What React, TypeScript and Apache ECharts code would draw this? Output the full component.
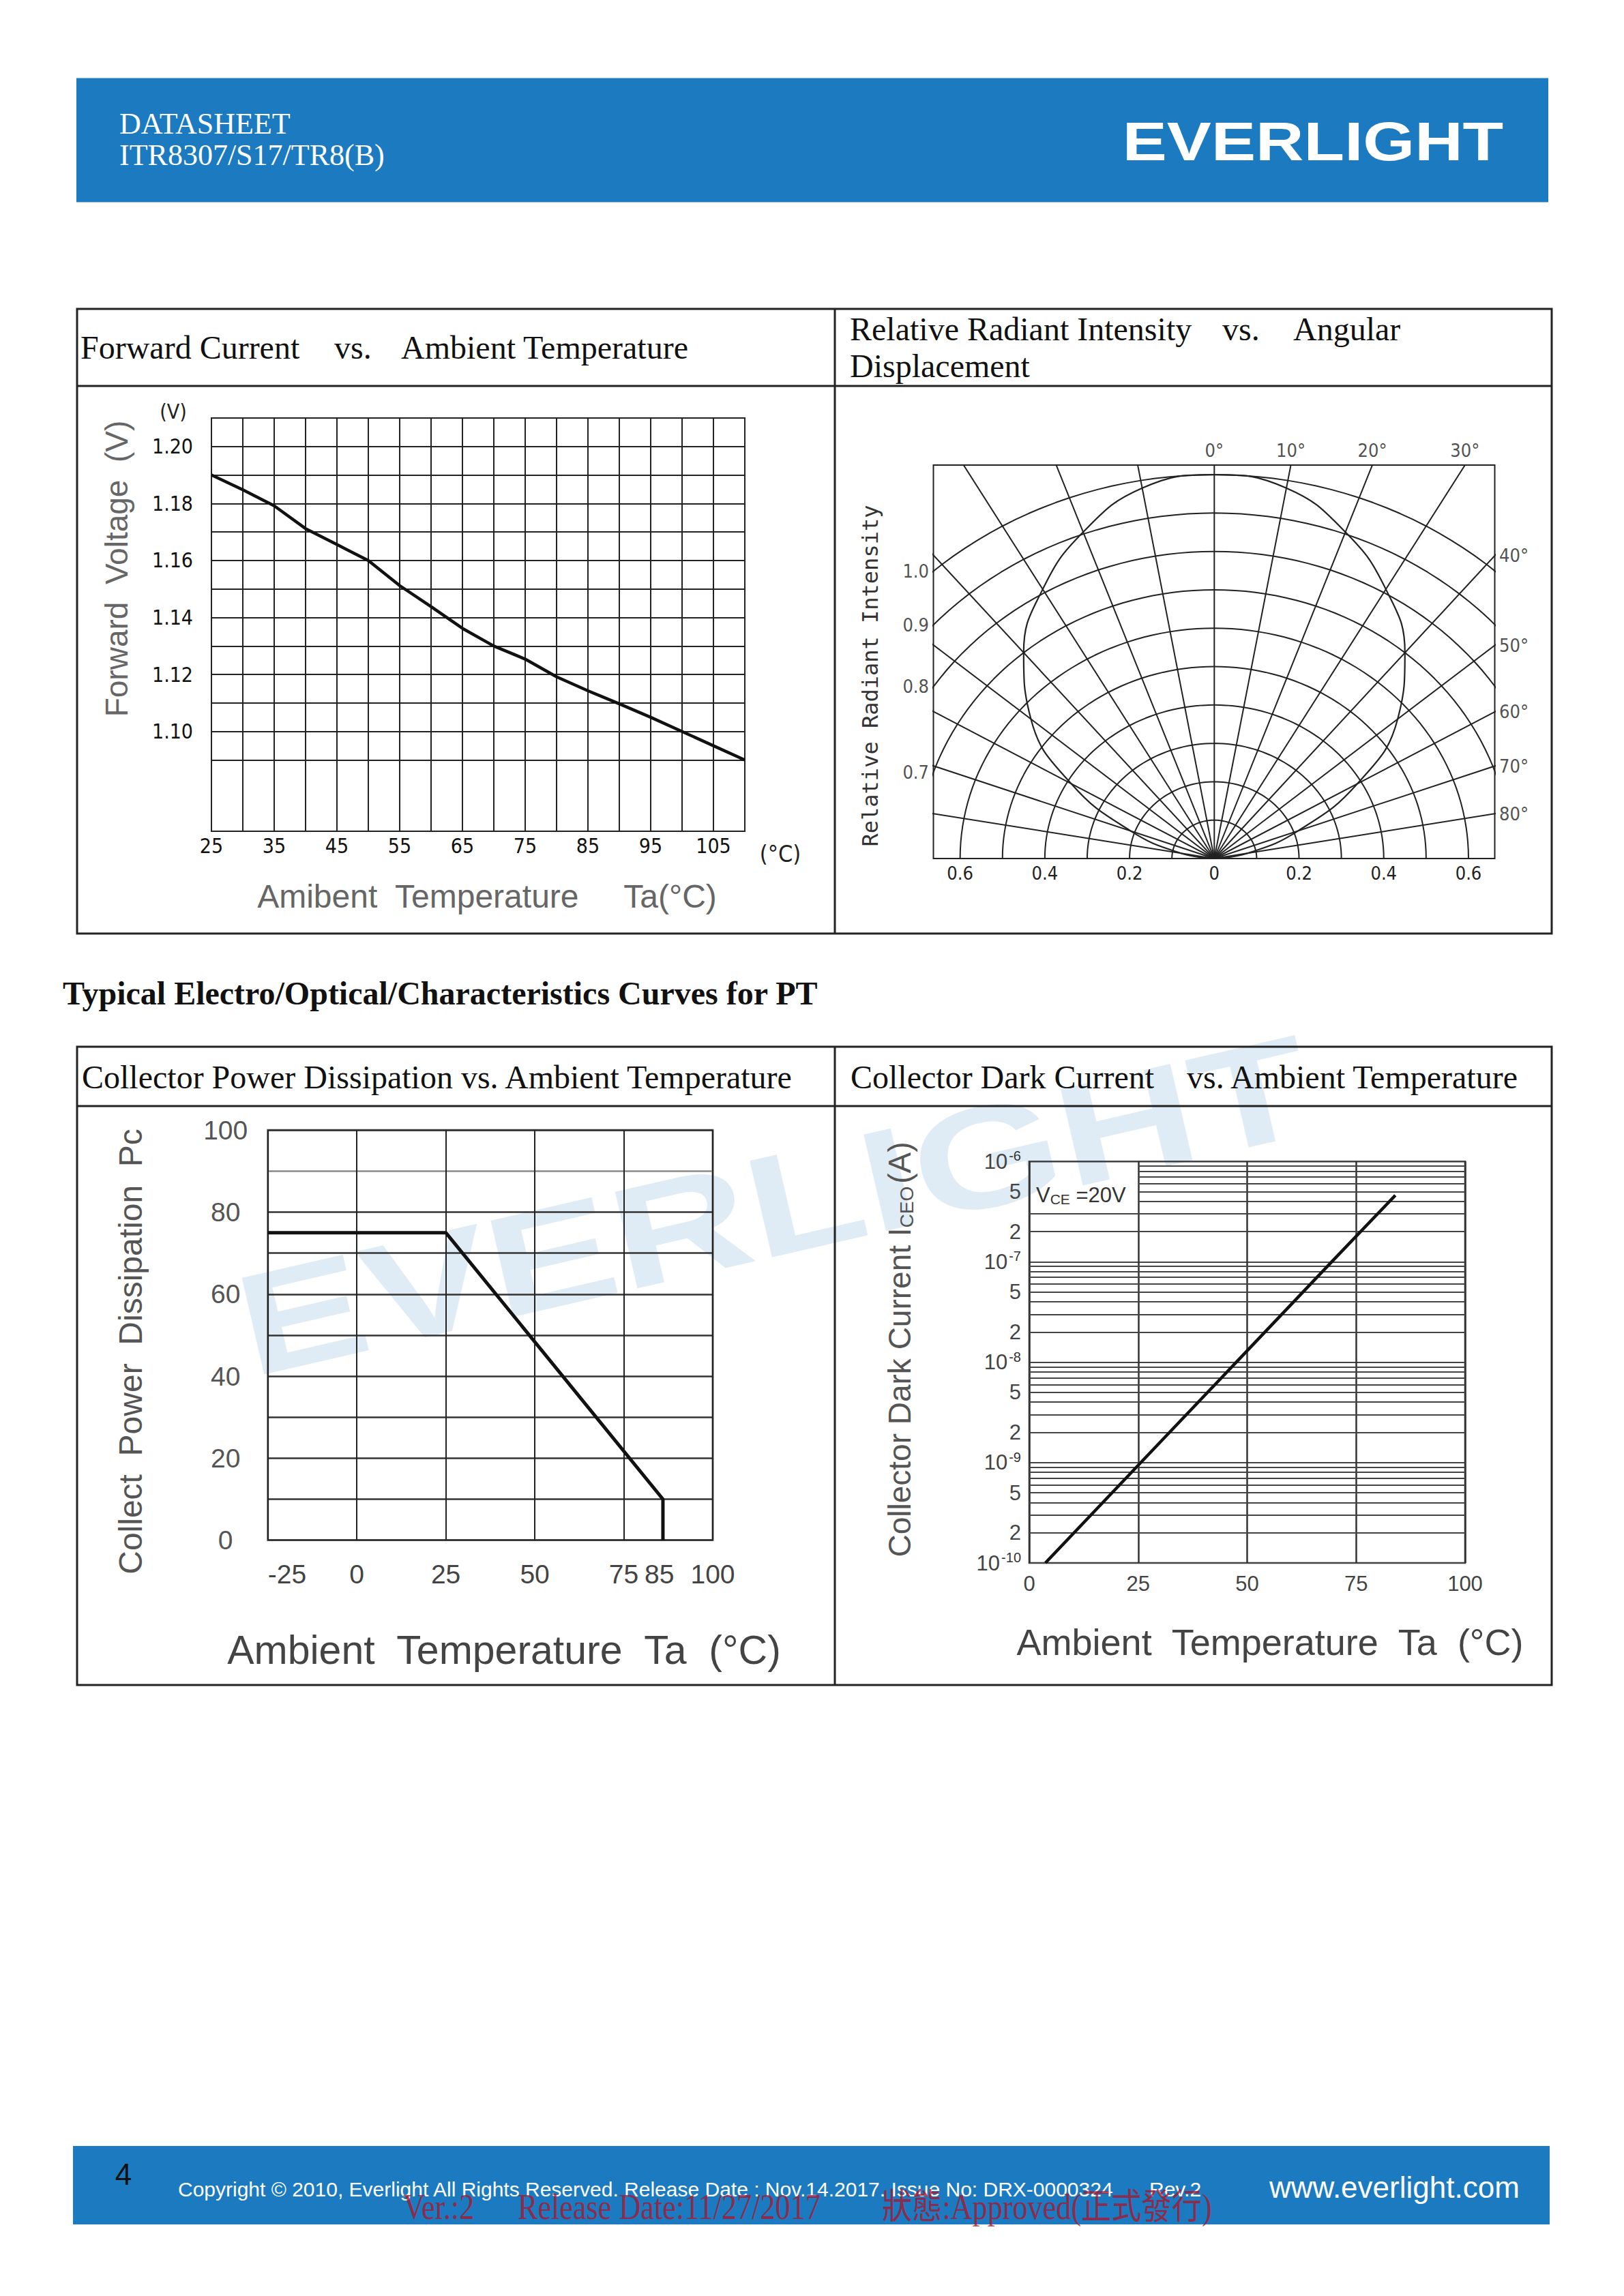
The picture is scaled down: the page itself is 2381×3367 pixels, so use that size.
import React, { useEffect, useRef } from "react";
import * as echarts from "echarts";

const PAGE_W = 2381;
const PAGE_H = 3367;

// ---------- Forward voltage vs ambient temperature ----------
const fvTemp = [25, 30, 35, 40, 45, 50, 55, 60, 65, 70, 75, 80, 85, 90, 95, 100, 105, 110];
const fvVolt = [1.19, 1.1848, 1.1792, 1.1712, 1.1656, 1.16, 1.1512, 1.1438, 1.1362, 1.13, 1.1254, 1.1192, 1.1143, 1.1097, 1.105, 1.1, 1.095, 1.09];
const fvXLabels = [25, 35, 45, 55, 65, 75, 85, 95, 105];
const fvYLabels = [1.1, 1.12, 1.14, 1.16, 1.18, 1.2];
const fvYGrid = [1.09, 1.1, 1.11, 1.12, 1.13, 1.14, 1.15, 1.16, 1.17, 1.18, 1.19, 1.2, 1.21];

// ---------- Relative radiant intensity vs angular displacement ----------
const riAngle = [-90, -80, -70, -60, -50, -40, -30, -20, -10, 0, 10, 20, 30, 40, 50, 60, 70, 80, 90];
const riValue = [0, 0.08, 0.21, 0.39, 0.565, 0.7, 0.81, 0.905, 0.98, 1.0, 0.98, 0.905, 0.81, 0.7, 0.565, 0.39, 0.21, 0.08, 0];
const riRadialGrid = [-80, -70, -60, -50, -40, -30, -20, -10, 0, 10, 20, 30, 40, 50, 60, 70, 80];
const riArcGrid = [0.1, 0.2, 0.3, 0.4, 0.5, 0.6, 0.7, 0.8, 0.9, 1.0];
const riXLabels = [-0.6, -0.4, -0.2, 0, 0.2, 0.4, 0.6];
const riLeftLabels = [1.0, 0.9, 0.8, 0.7];
const riTopLabels = [0, 10, 20, 30];
const riRightLabels = [40, 50, 60, 70, 80];

// ---------- Collector power dissipation vs ambient temperature ----------
const pdTemp = [-25, 25, 86, 86];
const pdPower = [75, 75, 10, 0];
const pdXLabels = [-25, 0, 25, 50, 75, 85, 100];

// ---------- Collector dark current vs ambient temperature ----------
const dcTemp = [3.7, 25.6, 47.5, 69.4, 84];
const dcCurrent = [1e-10, 1e-9, 1e-8, 1e-7, 4.6e-7];
const dcDecades = [1e-10, 1e-9, 1e-8, 1e-7, 1e-6];
const dcMinorMult = [2, 3, 4, 5, 6, 7, 8, 9];
const dcYLabels = [1e-10, 2e-10, 5e-10, 1e-9, 2e-9, 5e-9, 1e-8, 2e-8, 5e-8, 1e-7, 2e-7, 5e-7, 1e-6];

// ---------- fonts / colours ----------
const SERIF = "Liberation Serif, DejaVu Serif, serif";
const SANS = "Liberation Sans, Arial, sans-serif";
const NARROW = "Liberation Sans Narrow, DejaVu Sans Condensed, Liberation Sans, sans-serif";
const MONO = "DejaVu Sans Mono, monospace";
const BLUE = "#1c7bc0";
const RED = "rgba(170,22,45,0.8)";

const rad = (d: number) => (d * Math.PI) / 180;

function txt(text: string, x: number, y: number, o: any = {}) {
  return {
    type: "text",
    x,
    y,
    rotation: o.rot || 0,
    scaleX: o.sx || 1,
    z: o.z ?? 10,
    silent: true,
    style: {
      text,
      x: 0,
      y: 0,
      fill: o.color || "#111",
      fontSize: o.size || 48,
      fontFamily: o.family || SERIF,
      fontWeight: o.weight || "normal",
      align: o.align || "left",
      verticalAlign: "middle",
      rich: o.rich,
    },
  };
}

function ln(x1: number, y1: number, x2: number, y2: number, w = 3, c = "#222") {
  return { type: "line", z: 10, silent: true, shape: { x1, y1, x2, y2 }, style: { stroke: c, lineWidth: w } };
}

function buildOption() {
  // polar-chart box extents in data units (layout)
  const RX0 = -0.663, RX1 = 0.662, RY1 = 1.025;

  const series: any[] = [];

  // forward voltage
  series.push({
    type: "line",
    xAxisIndex: 0,
    yAxisIndex: 0,
    data: fvTemp.map((t, i) => [t, fvVolt[i]]),
    symbol: "none",
    lineStyle: { color: "#111", width: 4.5 },
    z: 5,
    markLine: {
      silent: true,
      symbol: "none",
      animation: false,
      label: { show: false },
      lineStyle: { color: "#222", width: 2, type: "solid" },
      data: fvYGrid.map((v) => [{ coord: [25, v] }, { coord: [110, v] }]),
    },
  });

  // polar grid: radial lines
  riRadialGrid.forEach((a) => {
    series.push({
      type: "line",
      xAxisIndex: 1,
      yAxisIndex: 1,
      data: [
        [0, 0],
        [2 * Math.sin(rad(a)), 2 * Math.cos(rad(a))],
      ],
      symbol: "none",
      silent: true,
      lineStyle: { color: "#222", width: 2 },
    });
  });
  // polar grid: arcs
  riArcGrid.forEach((r) => {
    const pts: number[][] = [];
    for (let d = -90; d <= 90; d += 2) pts.push([r * Math.sin(rad(d)), r * Math.cos(rad(d))]);
    series.push({
      type: "line",
      xAxisIndex: 1,
      yAxisIndex: 1,
      data: pts,
      symbol: "none",
      silent: true,
      lineStyle: { color: "#222", width: 2 },
    });
  });
  // radiation pattern
  series.push({
    type: "line",
    xAxisIndex: 1,
    yAxisIndex: 1,
    data: riAngle.map((a, i) => [riValue[i] * Math.sin(rad(a)), riValue[i] * Math.cos(rad(a))]),
    symbol: "none",
    smooth: 0.45,
    lineStyle: { color: "#222", width: 2.2 },
    z: 5,
  });
  const lblStyle = { fontSize: 27, fontFamily: NARROW, color: "#222" };
  series.push({
    type: "scatter",
    xAxisIndex: 1,
    yAxisIndex: 1,
    symbolSize: 1,
    clip: false,
    silent: true,
    itemStyle: { color: "rgba(0,0,0,0)" },
    data: riLeftLabels.map((r) => ({ value: [RX0, Math.sqrt(r * r - RX0 * RX0)], name: r.toFixed(1) })),
    label: { show: true, position: "left", distance: 6, formatter: "{b}", ...lblStyle },
  });
  series.push({
    type: "scatter",
    xAxisIndex: 1,
    yAxisIndex: 1,
    symbolSize: 1,
    clip: false,
    silent: true,
    itemStyle: { color: "rgba(0,0,0,0)" },
    data: riTopLabels.map((a) => ({ value: [RY1 * Math.tan(rad(a)), RY1], name: a + "°" })),
    label: { show: true, position: "top", distance: 8, formatter: "{b}", ...lblStyle },
  });
  series.push({
    type: "scatter",
    xAxisIndex: 1,
    yAxisIndex: 1,
    symbolSize: 1,
    clip: false,
    silent: true,
    itemStyle: { color: "rgba(0,0,0,0)" },
    data: riRightLabels.map((a) => ({ value: [RX1, RX1 / Math.tan(rad(a))], name: a + "°" })),
    label: { show: true, position: "right", distance: 6, formatter: "{b}", ...lblStyle },
  });

  // power dissipation
  series.push({
    type: "line",
    xAxisIndex: 2,
    yAxisIndex: 2,
    data: pdTemp.map((t, i) => [t, pdPower[i]]),
    symbol: "none",
    lineStyle: { color: "#111", width: 5 },
    z: 5,
  });

  // dark current: log-paper minor lines (the top-left cell holds the V_CE note)
  const minor: any[] = [];
  dcDecades.slice(0, -1).forEach((d) =>
    dcMinorMult.forEach((m) => {
      const v = Number((d * m).toPrecision(3));
      const x0 = v > 3.5e-7 ? 25 : 0;
      minor.push([{ coord: [x0, v] }, { coord: [100, v] }]);
    })
  );
  series.push({
    type: "line",
    xAxisIndex: 3,
    yAxisIndex: 3,
    data: dcTemp.map((t, i) => [t, dcCurrent[i]]),
    symbol: "none",
    lineStyle: { color: "#111", width: 4.5 },
    z: 5,
    markLine: {
      silent: true,
      symbol: "none",
      animation: false,
      label: { show: false },
      lineStyle: { color: "#444", width: 2, type: "solid" },
      data: minor,
    },
  });

  const pdSplitColors = ["#333", "#333", "#333", "#333", "#333", "#333", "#333", "#333", "#333", "#8a8a8a", "#333"];

  const graphics: any[] = [
    // watermark
    txt("EVERLIGHT", 1135, 1768, {
      rot: rad(13),
      sx: 1.33,
      size: 211,
      weight: "bold",
      family: SANS,
      color: "rgba(28,123,192,0.14)",
      align: "center",
      z: -5,
    }),
    // header
    { type: "rect", z: 1, silent: true, shape: { x: 112, y: 114.5, width: 2158, height: 182 }, style: { fill: BLUE } },
    txt("DATASHEET", 175, 181, { size: 44, color: "#fff" }),
    txt("ITR8307/S17/TR8(B)", 175, 227, { size: 44, color: "#fff" }),
    txt("EVERLIGHT", 1925, 207, { size: 80, weight: "bold", family: SANS, color: "#fff", align: "center", sx: 1.22 }),
    // top table
    { type: "rect", z: 10, silent: true, shape: { x: 113, y: 453, width: 2162, height: 916 }, style: { fill: "none", stroke: "#222", lineWidth: 3 } },
    ln(113, 566, 2275, 566),
    ln(1224, 453, 1224, 1369),
    txt("Forward Current", 118, 509),
    txt("vs.", 490, 509),
    txt("Ambient Temperature", 588, 509),
    txt("Relative Radiant Intensity", 1246, 482),
    txt("vs.", 1792, 482),
    txt("Angular", 1896, 482),
    txt("Displacement", 1246, 536),
    // section title
    txt("Typical Electro/Optical/Characteristics Curves for PT", 92, 1456, { weight: "bold" }),
    // bottom table
    { type: "rect", z: 10, silent: true, shape: { x: 113, y: 1535, width: 2162, height: 936 }, style: { fill: "none", stroke: "#222", lineWidth: 3 } },
    ln(113, 1622, 2275, 1622),
    ln(1224, 1535, 1224, 2471),
    txt("Collector Power Dissipation vs. Ambient Temperature", 120, 1579),
    txt("Collector Dark Current", 1247, 1579),
    txt("vs. Ambient Temperature", 1740, 1579),
    // forward chart annotations
    txt("Forward  Voltage  (V)", 171, 834, { rot: rad(90), size: 46, family: SANS, color: "#666", align: "center" }),
    txt("(V)", 254, 603, { size: 30, family: NARROW, color: "#222", align: "center" }),
    txt("Amibent  Temperature     Ta(°C)", 714, 1314, { size: 48, family: SANS, color: "#666", align: "center" }),
    txt("(°C)", 1144, 1252, { size: 34, family: NARROW, color: "#222", align: "center" }),
    // polar chart annotation
    txt("Relative Radiant Intensity", 1276, 991, { rot: rad(90), size: 32, family: MONO, color: "#333", align: "center" }),
    // power chart annotations
    txt("Collect  Power  Dissipation  Pc", 191, 1982, { rot: rad(90), size: 48, family: SANS, color: "#555", align: "center" }),
    txt("Ambient  Temperature  Ta  (°C)", 739, 2420, { size: 59, family: SANS, color: "#444", align: "center" }),
    // dark current annotations
    txt("{a|Collector Dark Current I}{s|CEO}{a|(A)}", 1319, 1979, {
      rot: rad(90),
      size: 46,
      family: SANS,
      color: "#555",
      align: "center",
      rich: {
        a: { fontSize: 46, fontFamily: SANS, fill: "#555", color: "#555" },
        s: { fontSize: 28, fontFamily: SANS, fill: "#555", color: "#555", verticalAlign: "bottom", padding: [20, 4, 0, 0] },
      },
    }),
    txt("Ambient  Temperature  Ta  (°C)", 1862, 2408, { size: 54, family: SANS, color: "#444", align: "center" }),
    txt("{a|V}{s|CE}{a| =20V}", 1519, 1752, {
      size: 31,
      family: SANS,
      color: "#333",
      rich: {
        a: { fontSize: 31, fontFamily: SANS, fill: "#333", color: "#333" },
        s: { fontSize: 21, fontFamily: SANS, fill: "#333", color: "#333", verticalAlign: "bottom", padding: [12, 0, 0, 0] },
      },
    }),
    // footer
    { type: "rect", z: 1, silent: true, shape: { x: 107, y: 3147, width: 2165, height: 115 }, style: { fill: BLUE } },
    txt("4", 181, 3188, { size: 44, family: SANS, color: "#111", align: "center" }),
    txt("Copyright © 2010, Everlight All Rights Reserved. Release Date : Nov.14.2017. Issue No: DRX-0000324", 261, 3210, { size: 30, family: SANS, color: "#fff" }),
    txt("Rev.2", 1685, 3210, { size: 30, family: SANS, color: "#fff" }),
    txt("www.everlight.com", 1861, 3207, { size: 44, family: SANS, color: "#fff" }),
    txt("Ver.:2", 591, 3236, { size: 52, sx: 0.85, family: SERIF + ", Noto Sans CJK TC", color: RED, z: 12 }),
    txt("Release Date:11/27/2017", 759, 3236, { size: 52, sx: 0.85, family: SERIF + ", Noto Sans CJK TC", color: RED, z: 12 }),
    txt("狀態:Approved(正式發行)", 1293, 3236, { size: 52, sx: 0.85, family: SERIF + ", Noto Sans CJK TC", color: RED, z: 12 }),
  ];

  return {
    animation: false,
    backgroundColor: "#fff",
    grid: [
      { left: 310, top: 613, width: 782, height: 606, show: true, borderColor: "#222", borderWidth: 2 },
      { left: 1368.5, top: 682, width: 823, height: 577, show: true, borderColor: "#222", borderWidth: 2 },
      { left: 392.7, top: 1657.3, width: 652.3, height: 601.3, show: true, borderColor: "#666", borderWidth: 3 },
      { left: 1509, top: 1703.2, width: 639, height: 588.8, show: true, borderColor: "#333", borderWidth: 2.5 },
    ],
    xAxis: [
      {
        type: "value",
        gridIndex: 0,
        min: 25,
        max: 110,
        interval: 5,
        axisLine: { show: false },
        axisTick: { show: false },
        splitLine: { show: true, lineStyle: { color: "#222", width: 2 } },
        axisLabel: {
          margin: 6,
          fontSize: 30,
          fontFamily: NARROW,
          color: "#111",
          formatter: (v: number) => (fvXLabels.indexOf(v) >= 0 ? String(v) : ""),
        },
      },
      {
        type: "value",
        gridIndex: 1,
        min: RX0,
        max: RX1,
        axisLine: { show: false },
        axisTick: { show: false },
        splitLine: { show: false },
        axisLabel: {
          customValues: riXLabels,
          margin: 8,
          fontSize: 27,
          fontFamily: NARROW,
          color: "#222",
          formatter: (v: number) => {
            const k = Math.round(v * 10);
            if (Math.abs(v * 10 - k) > 1e-6 || k % 2 !== 0) return "";
            return k === 0 ? "0" : Math.abs(v).toFixed(1);
          },
        },
      },
      {
        type: "value",
        gridIndex: 2,
        min: -25,
        max: 100,
        interval: 25,
        axisLine: { show: false },
        axisTick: { show: false },
        splitLine: { show: true, lineStyle: { color: "#222", width: 2 } },
        axisLabel: {
          customValues: pdXLabels,
          alignMinLabel: "left",
          margin: 30,
          fontSize: 39,
          fontFamily: SANS,
          color: "#444",
        },
      },
      {
        type: "value",
        gridIndex: 3,
        min: 0,
        max: 100,
        interval: 25,
        axisLine: { show: false },
        axisTick: { show: false },
        splitLine: { show: true, lineStyle: { color: "#333", width: 2.5 } },
        axisLabel: { margin: 15, fontSize: 31, fontFamily: SANS, color: "#444" },
      },
    ],
    yAxis: [
      {
        type: "value",
        gridIndex: 0,
        min: 1.065,
        max: 1.21,
        axisLine: { show: false },
        axisTick: { show: false },
        splitLine: { show: false },
        axisLabel: {
          customValues: fvYLabels,
          align: "center",
          margin: 57,
          fontSize: 30,
          fontFamily: NARROW,
          color: "#111",
          formatter: (v: number) => (fvYLabels.some((l) => Math.abs(l - v) < 1e-6) ? v.toFixed(2) : ""),
        },
      },
      { type: "value", gridIndex: 1, min: 0, max: RY1, show: false },
      {
        type: "value",
        gridIndex: 2,
        min: 0,
        max: 100,
        interval: 10,
        axisLine: { show: false },
        axisTick: { show: false },
        splitLine: { show: true, lineStyle: { color: pdSplitColors, width: 2.5 } },
        axisLabel: {
          align: "center",
          margin: 62,
          fontSize: 39,
          fontFamily: SANS,
          color: "#555",
          formatter: (v: number) => (v % 20 === 0 ? String(v) : ""),
        },
      },
      {
        type: "log",
        logBase: 10,
        gridIndex: 3,
        min: 1e-10,
        max: 1e-6,
        axisLine: { show: false },
        axisTick: { show: false },
        splitLine: { show: true, lineStyle: { color: "#444", width: 2 } },
        axisLabel: {
          customValues: dcYLabels,
          margin: 12,
          formatter: (v: number) => {
            const e = Math.floor(Math.log10(v) + 1e-9);
            const m = Math.round(v / Math.pow(10, e));
            return m === 1 ? `{b|10}{s|${e}}` : `{b|${m}}`;
          },
          rich: {
            b: { fontSize: 31, fontFamily: SANS, color: "#444", lineHeight: 36 },
            s: { fontSize: 20, fontFamily: SANS, color: "#333", verticalAlign: "top", padding: [0, 0, 16, 2] },
          },
        },
      },
    ],
    series,
    graphic: { elements: graphics },
  };
}

export default function App() {
  const ref = useRef<HTMLDivElement>(null);
  useEffect(() => {
    if (!ref.current) return;
    const chart = echarts.init(ref.current, undefined, { renderer: "svg", width: PAGE_W, height: PAGE_H });
    chart.setOption(buildOption() as any);
    return () => chart.dispose();
  }, []);
  return (
    <div
      ref={ref}
      style={{ position: "absolute", left: 0, top: 0, width: PAGE_W, height: PAGE_H, background: "#fff" }}
    />
  );
}
